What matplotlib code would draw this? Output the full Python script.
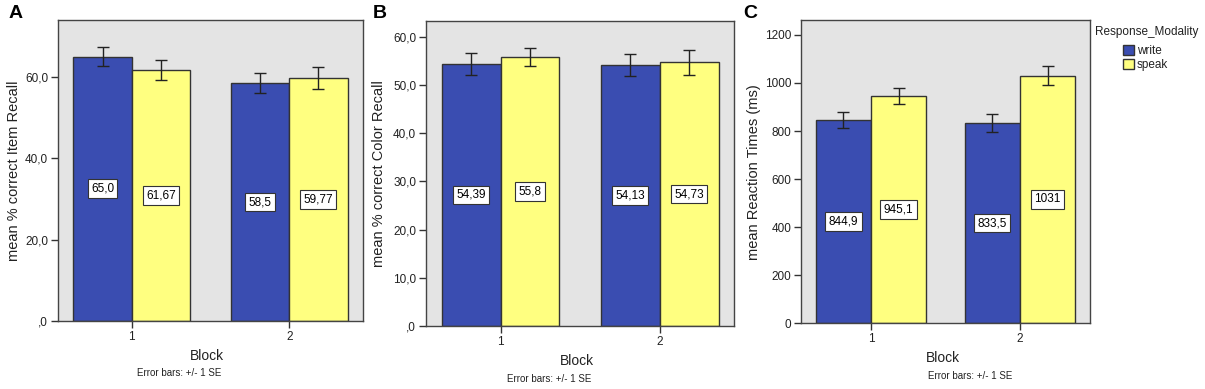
import numpy as np
import matplotlib.pyplot as plt

plt.rcParams['font.family'] = ['Liberation Sans', 'DejaVu Sans']

# Dados
blocks = ['1', '2']
modalities = ['write', 'speak']

item_write = [65.0, 58.5]
item_speak = [61.67, 59.77]
item_write_se = [2.35, 2.35]
item_speak_se = [2.5, 2.7]

color_write = [54.39, 54.13]
color_speak = [55.8, 54.73]
color_write_se = [2.35, 2.25]
color_speak_se = [1.9, 2.6]

rt_write = [844.9, 833.5]
rt_speak = [945.1, 1031.0]
rt_write_se = [33, 39]
rt_speak_se = [33, 38]

item_labels_w = ['65,0', '58,5']
item_labels_s = ['61,67', '59,77']
color_labels_w = ['54,39', '54,13']
color_labels_s = ['55,8', '54,73']
rt_labels_w = ['844,9', '833,5']
rt_labels_s = ['945,1', '1031']

blue = '#3a4db1'
yellow = '#ffff80'
bg = '#e4e4e4'

fig = plt.figure(figsize=(12.05, 3.89), dpi=100)

axA = fig.add_axes([0.0481, 0.1748, 0.2531, 0.7738])
axB = fig.add_axes([0.3535, 0.1620, 0.2559, 0.7840])
axC = fig.add_axes([0.6650, 0.1689, 0.2393, 0.7797])


def painel(ax, w, s, w_se, s_se, lab_w, lab_s, ymax, yticks, ytl, ylabel, ylab_x, note_x):
    x = np.arange(1, len(blocks) + 1)
    bw = 0.37
    ax.set_facecolor(bg)
    bars_w = ax.bar(x - bw / 2, w, bw, color=blue, edgecolor='#333333', linewidth=1, label='write', zorder=2)
    bars_s = ax.bar(x + bw / 2, s, bw, color=yellow, edgecolor='#333333', linewidth=1, label='speak', zorder=2)
    ax.errorbar(x - bw / 2, w, yerr=w_se, fmt='none', ecolor='#222222', elinewidth=1, capsize=4, capthick=1, zorder=3)
    ax.errorbar(x + bw / 2, s, yerr=s_se, fmt='none', ecolor='#222222', elinewidth=1, capsize=4, capthick=1, zorder=3)
    caixa = dict(boxstyle='square,pad=0.28', facecolor='white', edgecolor='#333333', linewidth=0.8)
    for xi, v, t in zip(x - bw / 2, w, lab_w):
        ax.text(xi, v / 2, t, ha='center', va='center', fontsize=8.5, bbox=caixa, zorder=4)
    for xi, v, t in zip(x + bw / 2, s, lab_s):
        ax.text(xi, v / 2, t, ha='center', va='center', fontsize=8.5, bbox=caixa, zorder=4)
    ax.set_xlim(0.532, 2.468)
    ax.set_ylim(0, ymax)
    ax.set_xticks(x)
    ax.set_xticklabels(blocks, fontsize=8.5)
    ax.set_yticks(yticks)
    ax.set_yticklabels(ytl, fontsize=8.5)
    ax.tick_params(direction='out', length=5, width=1, color='#333333', labelcolor='#222222', pad=2)
    for sp in ax.spines.values():
        sp.set_color('#444444')
        sp.set_linewidth(1)
    ax.set_ylabel(ylabel, fontsize=10.5, color='#222222')
    ax.yaxis.label.set_verticalalignment('center')
    ax.yaxis.set_label_coords(ylab_x, 0.5)
    ax.set_xlabel('Block', fontsize=10, color='#222222')
    ax.xaxis.label.set_verticalalignment('center')
    ax.xaxis.set_label_coords(0.49, -0.116)
    ax.text(note_x, -0.174, 'Error bars: +/- 1 SE', transform=ax.transAxes, ha='center', va='center',
            fontsize=7, color='#222222')
    return bars_w, bars_s


painel(axA, item_write, item_speak, item_write_se, item_speak_se, item_labels_w, item_labels_s,
       74, [0, 20, 40, 60], [',0', '20,0', '40,0', '60,0'], 'mean % correct Item Recall', -0.144, 0.398)
painel(axB, color_write, color_speak, color_write_se, color_speak_se, color_labels_w, color_labels_s,
       63.3, [0, 10, 20, 30, 40, 50, 60], [',0', '10,0', '20,0', '30,0', '40,0', '50,0', '60,0'],
       'mean % correct Color Recall', -0.152, 0.398)
bw_, bs_ = painel(axC, rt_write, rt_speak, rt_write_se, rt_speak_se, rt_labels_w, rt_labels_s,
                  1262, [0, 200, 400, 600, 800, 1000, 1200], ['0', '200', '400', '600', '800', '1000', '1200'],
                  'mean Reaction Times (ms)', -0.164, 0.584)

# Legenda
fig.text(0.9087, 0.918, 'Response_Modality', fontsize=8.5, color='#222222', va='center')
leg = fig.legend([bw_, bs_], modalities, loc='upper left',
                 bbox_to_anchor=(0.932, 0.885), frameon=False, fontsize=8.5,
                 handlelength=0.95, handleheight=0.95, handletextpad=0.2, borderpad=0.0,
                 borderaxespad=0.0, labelspacing=0.2)
for t in leg.get_texts():
    t.set_color('#222222')

fig.text(0.007, 0.965, 'A', fontsize=14, fontweight='bold', va='center')
fig.text(0.309, 0.965, 'B', fontsize=14, fontweight='bold', va='center')
fig.text(0.617, 0.965, 'C', fontsize=14, fontweight='bold', va='center')

plt.savefig('out.png', dpi=100)
